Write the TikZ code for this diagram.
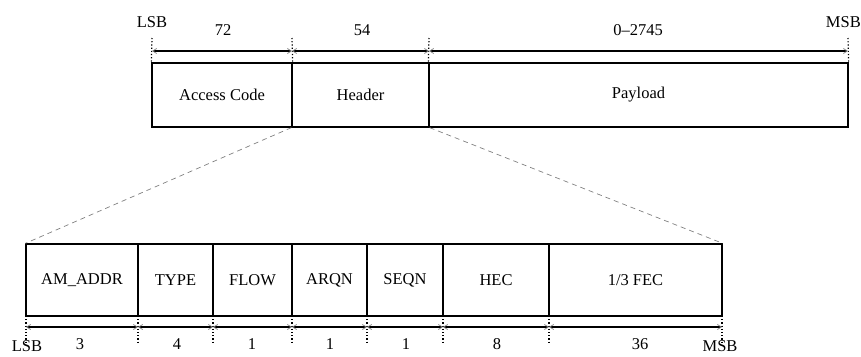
\documentclass[tikz,border=0pt]{standalone}
\usepackage{fontspec}
\setmainfont{Liberation Serif}
\usetikzlibrary{arrows.meta}
\begin{document}
\begin{tikzpicture}[x=1pt,y=-1pt,
  field/.style={draw,line width=1.3pt,inner sep=0pt,font=\fontsize{16.5}{19}\selectfont},
  toprow/.style={field,minimum height=64pt},
  botrow/.style={field,minimum height=72pt},
  lbl/.style={inner sep=0pt,font=\fontsize{16.5}{19}\selectfont},
  tick/.style={line width=1.2pt,dotted},
  dim/.style={line width=1.1pt,{Straight Barb[length=4pt,width=5pt,line width=0.7pt,color=gray]}-{Straight Barb[length=4pt,width=5pt,line width=0.7pt,color=gray]}},
  zoomline/.style={gray,line width=0.7pt,dash pattern=on 5pt off 4pt}]
\useasboundingbox (0,0) rectangle (861,356);
% top row
\node[toprow,minimum width=140pt] (ac) at (222,95) {Access Code};
\node[toprow,minimum width=137pt] (hdr) at (360.5,95) {Header};
\node[toprow,minimum width=419pt] (pl) at (638.5,95) {Payload};
% top ticks
\coordinate (t0) at (152,38); \coordinate (t1) at (292,38);
\coordinate (t2) at (429,38); \coordinate (t3) at (848,38);
\draw[tick] (t0) -- (ac.north west);
\draw[tick] (t1) -- (ac.north east);
\draw[tick] (t2) -- (pl.north west);
\draw[tick] (t3) -- (pl.north east);
\coordinate (d0) at (152,51); \coordinate (d1) at (292,51);
\coordinate (d2) at (429,51); \coordinate (d3) at (848,51);
\draw[dim] (d0) -- (d1);
\draw[dim] (d1) -- (d2);
\draw[dim] (d2) -- (d3);
\node[lbl] (n72) at (223,30) {72};
\node[lbl] (n54) at (362,30) {54};
\node[lbl] (npl) at (638,30) {0--2745};
\node[lbl] (lsbt) at (152,22) {LSB};
\node[lbl,anchor=east] (msbt) at (861,22) {MSB};
% bottom row
\node[botrow,minimum width=112pt] (am) at (82,280) {AM\_ADDR};
\node[botrow,minimum width=75pt] (ty) at (175.5,280) {TYPE};
\node[botrow,minimum width=79pt] (fl) at (252.5,280) {FLOW};
\node[botrow,minimum width=75pt] (ar) at (329.5,280) {ARQN};
\node[botrow,minimum width=76pt] (sq) at (405,280) {SEQN};
\node[botrow,minimum width=106pt] (hec) at (496,280) {HEC};
\node[botrow,minimum width=173pt] (fec) at (635.5,280) {1/3 FEC};
% zoom lines
\draw[zoomline] (hdr.south west) -- (am.north west);
\draw[zoomline] (hdr.south east) -- (fec.north east);
% bottom ticks
\foreach \x/\n in {26/b0,138/b1,213/b2,292/b3,367/b4,443/b5,549/b6,722/b7}{
  \coordinate (\n) at (\x,327);
  \coordinate (\n e) at (\x,342);
  \coordinate (\n s) at (\x,316);
  \draw[tick] (\n s) -- (\n e);
}
\draw[dim] (b0) -- (b1);
\draw[dim] (b1) -- (b2);
\draw[dim] (b2) -- (b3);
\draw[dim] (b3) -- (b4);
\draw[dim] (b4) -- (b5);
\draw[dim] (b5) -- (b6);
\draw[dim] (b6) -- (b7);
\node[lbl] (l3) at (80,344) {3};
\node[lbl] (l4) at (177,344) {4};
\node[lbl] (l1a) at (252,344) {1};
\node[lbl] (l1b) at (330,344) {1};
\node[lbl] (l1c) at (406,344) {1};
\node[lbl] (l8) at (497,344) {8};
\node[lbl] (l36) at (640,344) {36};
\node[lbl,anchor=base] (lsbb) at (27,351) {LSB};
\node[lbl,anchor=base] (msbb) at (720,351) {MSB};
\end{tikzpicture}
\end{document}
